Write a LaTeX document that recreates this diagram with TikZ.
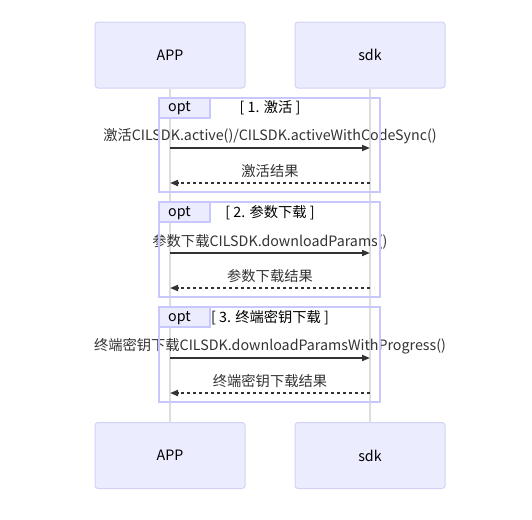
\documentclass[tikz,border=0pt]{standalone}
\usepackage{fontspec}
\newfontfamily\cjk{Noto Sans CJK SC}
\usetikzlibrary{arrows.meta}
\definecolor{actfill}{HTML}{ECECFF}
\definecolor{actdraw}{HTML}{D2D2F6}
\definecolor{loopdraw}{HTML}{C8C8FF}
\definecolor{lifegray}{HTML}{DDDDDD}
\definecolor{msgcol}{HTML}{333333}
\tikzset{
  actor/.style={draw=actdraw, fill=actfill, line width=0.75pt, rounded corners=2.25pt,
    minimum width=112.5pt, minimum height=49.5pt, font=\cjk\fontsize{10.7}{12}\selectfont, text=black},
  lifeline/.style={draw=lifegray, line width=1.5pt},
  loopframe/.style={draw=loopdraw, line width=1.5pt, minimum width=165.75pt, inner sep=0pt},
  labelbox/.style={draw=loopdraw, fill=actfill, line width=1.5pt, minimum width=38.25pt, minimum height=15pt, inner sep=0pt, anchor=north west},
  msgtext/.style={font=\cjk\fontsize{10.7}{12}\selectfont, text=msgcol, inner sep=0pt},
  titletext/.style={font=\cjk\fontsize{10.7}{12}\selectfont, text=black, inner sep=0pt},
  msgarrow/.style={draw=msgcol, line width=1.3pt, -{Triangle[length=6pt,width=4.5pt]}},
  retarrow/.style={msgarrow, dash pattern=on 2.25pt off 2.25pt},
}
\begin{document}
\begin{tikzpicture}[x=0.75pt,y=-0.75pt]
\useasboundingbox (0,0) rectangle (532,519);
\fill[white] (0,0) rectangle (532,519);
% actors
\node[actor] (appT) at (170,55) {APP};
\node[actor] (sdkT) at (370,55) {sdk};
\node[actor] (appB) at (170,455.5) {APP};
\node[actor] (sdkB) at (370,455.5) {sdk};
% lifelines
\draw[lifeline] (appT.south) -- (appB.north);
\draw[lifeline] (sdkT.south) -- (sdkB.north);
% coordinates on lifelines
\coordinate (a1) at (170,148); \coordinate (s1) at (370,148);
\coordinate (a2) at (170,183); \coordinate (s2) at (370,183);
\coordinate (a3) at (170,253); \coordinate (s3) at (370,253);
\coordinate (a4) at (170,288); \coordinate (s4) at (370,288);
\coordinate (a5) at (170,358); \coordinate (s5) at (370,358);
\coordinate (a6) at (170,393); \coordinate (s6) at (370,393);
% message texts
\node[msgtext] (m1) at (270,136) {激活CILSDK.active()/CILSDK.activeWithCodeSync()};
\node[msgtext] (r1) at (270,171) {激活结果};
\node[msgtext] (m2) at (270,242) {参数下载CILSDK.downloadParams()};
\node[msgtext] (r2) at (270,276) {参数下载结果};
\node[msgtext] (m3) at (270,346) {终端密钥下载CILSDK.downloadParamsWithProgress()};
\node[msgtext] (r3) at (270,381) {终端密钥下载结果};
% loop frames
\node[loopframe, minimum height=70.5pt] (opt1) at (269.5,145) {};
\node[loopframe, minimum height=71.25pt] (opt2) at (269.5,249.5) {};
\node[loopframe, minimum height=71.25pt] (opt3) at (269.5,354.5) {};
\node[labelbox] (l1) at (opt1.north west) {};
\node[labelbox] (l2) at (opt2.north west) {};
\node[labelbox] (l3) at (opt3.north west) {};
\node[titletext] (o1) at (179.5,108.5) {opt};
\node[titletext] (o2) at (179.5,213) {opt};
\node[titletext] (o3) at (179.5,318) {opt};
\node[titletext] (t1) at (270,108) {[ 1. 激活 ]};
\node[titletext] (t2) at (270,213) {[ 2. 参数下载 ]};
\node[titletext] (t3) at (270,318) {[ 3. 终端密钥下载 ]};
% arrows
\draw[msgarrow] (a1) -- (s1);
\draw[retarrow] (s2) -- (a2);
\draw[msgarrow] (a3) -- (s3);
\draw[retarrow] (s4) -- (a4);
\draw[msgarrow] (a5) -- (s5);
\draw[retarrow] (s6) -- (a6);
\end{tikzpicture}
\end{document}
